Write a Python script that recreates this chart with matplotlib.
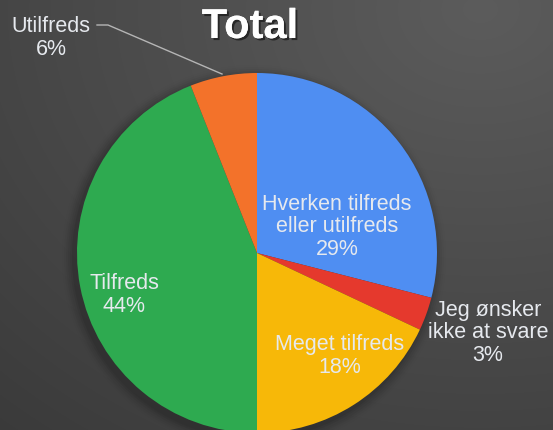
import numpy as np
import matplotlib
matplotlib.use("Agg")
import matplotlib.pyplot as plt
import matplotlib.patheffects as pe
from matplotlib.patches import Circle

categories = ["Hverken tilfreds\neller utilfreds", "Jeg ønsker\nikke at svare",
              "Meget tilfreds", "Tilfreds", "Utilfreds"]
values = [29, 3, 18, 44, 6]
colors = ["#4f8ef2", "#e5392d", "#f7b808", "#2eaa50", "#f3722a"]
title = "Total"

plt.rcParams['font.family'] = ['Liberation Sans', 'DejaVu Sans']

W, H = 553, 430
fig = plt.figure(figsize=(W / 100, H / 100), dpi=100)
ax = fig.add_axes([0, 0, 1, 1])

# background gradient
yy, xx = np.mgrid[0:H, 0:W]
d = np.sqrt(((xx - 480) / W) ** 2 + ((yy - 420) / H) ** 2)
g = 0.36 - 0.10 * d
bg = np.dstack([g, g, g])
ax.imshow(bg, extent=(0, W, 0, H), origin='lower', zorder=0)

cx, cy, r = 257, 177, 180
# soft shadow
for i, a in enumerate(np.linspace(0.06, 0.01, 6)):
    ax.add_patch(Circle((cx - 3, cy - 4), r + 2 + i * 2, color='black', alpha=a, lw=0, zorder=1))

wedges, _ = ax.pie(values, colors=colors, startangle=90, counterclock=False,
                   center=(cx, cy), radius=r, frame=True,
                   wedgeprops=dict(linewidth=0, zorder=2))
ax.set_xlim(0, W)
ax.set_ylim(0, H)
ax.set_aspect('equal')
ax.axis('off')

pcts = [f"{v}%" for v in values]
txt_color = "#e6e9ee"
fs = 15.5
label_pos = [(337, 203), (488, 97), (340, 74), (124, 135), (51, 392)]
for cat, p, (x, y) in zip(categories, pcts, label_pos):
    ax.text(x, y, f"{cat}\n{p}", ha='center', va='center', fontsize=fs,
            color=txt_color, linespacing=1.12, zorder=5)

# leader line for Utilfreds
ax.plot([97, 108, 222], [405, 405, 356], color="#b5b5b5", lw=1, zorder=5)

ax.text(250, 403, title, ha='center', va='center', fontsize=30, fontweight='bold',
        color='white', zorder=6,
        path_effects=[pe.withSimplePatchShadow(offset=(1.5, -1.5), shadow_rgbFace='black', alpha=0.5),
                      pe.Normal()])

fig.savefig("out.png", dpi=100)
